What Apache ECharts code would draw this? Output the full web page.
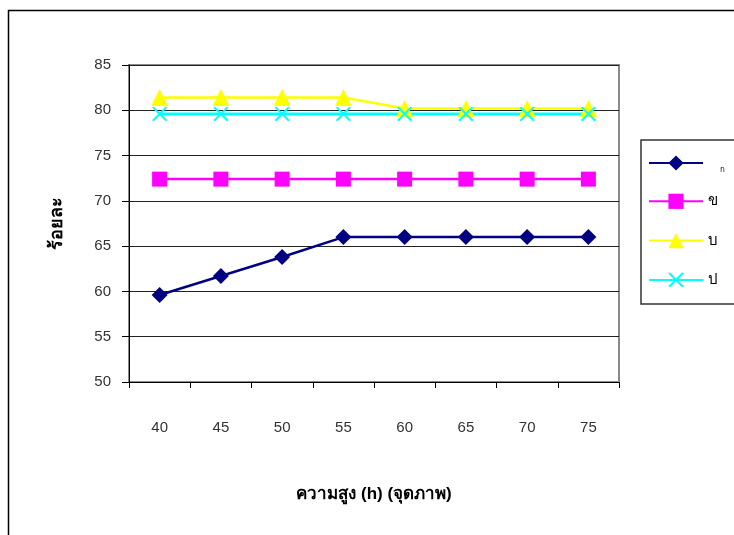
<!DOCTYPE html>
<html>
<head>
<meta charset="utf-8">
<style>
  html, body { margin: 0; padding: 0; background: #fff; }
  #chart { width: 734px; height: 535px; }
</style>
<script src="https://cdn.jsdelivr.net/npm/echarts@6/dist/echarts.min.js"></script>
</head>
<body>
<div id="chart"></div>
<script>
// Heights (h), in pixels
const heights = ['40', '45', '50', '55', '60', '65', '70', '75'];

// Percentages per series
const seriesNames = ['ก', 'ข', 'บ', 'ป'];
const valuesA = [59.6, 61.7, 63.8, 66.0, 66.0, 66.0, 66.0, 66.0];
const valuesB = [72.4, 72.4, 72.4, 72.4, 72.4, 72.4, 72.4, 72.4];
const valuesC = [81.4, 81.4, 81.4, 81.4, 80.2, 80.2, 80.2, 80.2];
const valuesD = [79.6, 79.6, 79.6, 79.6, 79.6, 79.6, 79.6, 79.6];

const xAxisTitle = 'ความสูง (h) (จุดภาพ)';
const yAxisTitle = 'ร้อยละ';

const FONT = '"Liberation Sans", Arial, sans-serif';
const crossPath = 'path://M0,1.5 L1.5,0 L8,6.5 L14.5,0 L16,1.5 L9.5,8 L16,14.5 L14.5,16 L8,9.5 L1.5,16 L0,14.5 L6.5,8 Z';

function lineSeries(name, data, color, symbol, size, width) {
  return {
    name: name,
    type: 'line',
    data: data,
    symbol: symbol,
    symbolSize: size,
    showAllSymbol: true,
    lineStyle: { color: color, width: width },
    itemStyle: { color: color },
    emphasis: { disabled: true },
    animation: false
  };
}

const chart = echarts.init(document.getElementById('chart'), null, { renderer: 'canvas' });
chart.setOption({
  backgroundColor: '#fff',
  animation: false,
  graphic: [{
    type: 'rect',
    shape: { x: 8.5, y: 10.5, width: 800, height: 600 },
    style: { fill: 'none', stroke: '#000', lineWidth: 1.5 },
    silent: true,
    z: -10
  }],
  grid: {
    left: 129, top: 65, width: 490, height: 317,
    show: true, borderColor: '#8a8a8a', borderWidth: 2, backgroundColor: 'transparent'
  },
  xAxis: {
    type: 'category',
    data: heights,
    boundaryGap: true,
    name: xAxisTitle,
    nameLocation: 'middle',
    nameGap: 104,
    nameTextStyle: { fontFamily: FONT, fontSize: 17, fontWeight: 'bold', color: '#000' },
    axisLine: { lineStyle: { color: '#000', width: 1 } },
    axisTick: { show: true, alignWithLabel: false, length: 6, lineStyle: { color: '#000' } },
    axisLabel: { margin: 38, fontFamily: FONT, fontSize: 15, color: '#333' },
    splitLine: { show: false }
  },
  yAxis: {
    type: 'value',
    min: 50, max: 85, interval: 5,
    name: yAxisTitle,
    nameLocation: 'middle',
    nameGap: 63,
    nameRotate: 90,
    nameTextStyle: { fontFamily: FONT, fontSize: 18, fontWeight: 'bold', color: '#000' },
    axisLine: { show: true, lineStyle: { color: '#000', width: 1 } },
    axisTick: { show: true, length: 7, lineStyle: { color: '#000' } },
    axisLabel: { margin: 18, fontFamily: FONT, fontSize: 15, color: '#333' },
    splitLine: { show: true, lineStyle: { color: '#222', width: 1 } }
  },
  legend: {
    orient: 'vertical',
    left: 641, top: 140,
    padding: [12, 22, 12, 7],
    itemWidth: 54, itemHeight: 19,
    itemGap: 15.3,
    borderColor: '#333', borderWidth: 1.5,
    backgroundColor: '#fff',
    formatter: function (name) {
      return name === seriesNames[0] ? '{s|' + name + '}' : name;
    },
    textStyle: {
      fontFamily: FONT, fontSize: 15, lineHeight: 24, color: '#000',
      rich: { s: { fontSize: 8, lineHeight: 10, padding: [14, 0, 0, 12], fontFamily: FONT } }
    },
    data: seriesNames
  },
  series: [
    lineSeries(seriesNames[0], valuesA, '#000080', 'diamond', 16, 2.5),
    lineSeries(seriesNames[1], valuesB, '#ff00ff', 'rect', 15, 2.5),
    lineSeries(seriesNames[2], valuesC, '#ffff00', 'triangle', 17, 2.5),
    lineSeries(seriesNames[3], valuesD, '#00ffff', crossPath, 15, 3)
  ]
});
</script>
</body>
</html>
